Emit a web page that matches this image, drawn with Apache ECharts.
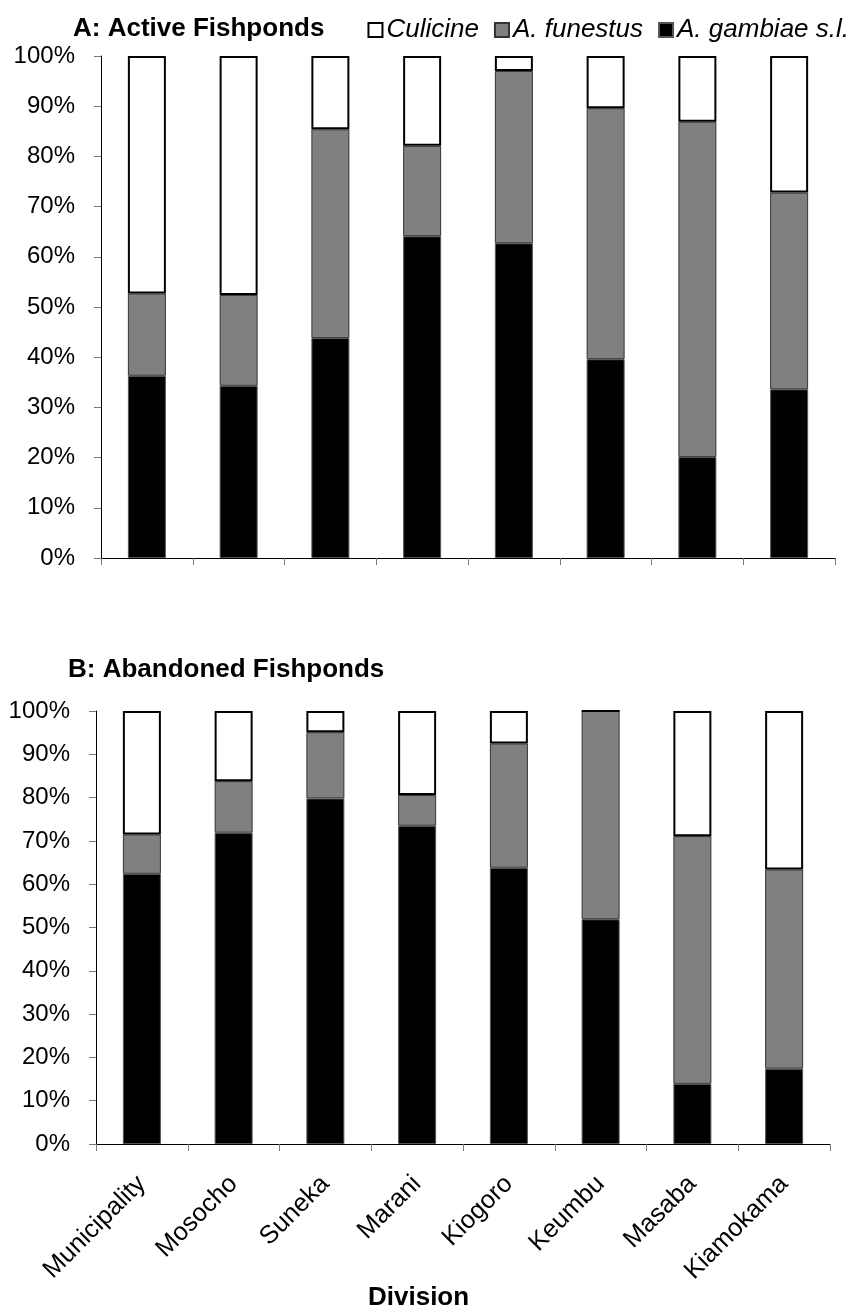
<!DOCTYPE html>
<html>
<head>
<meta charset="utf-8">
<script src="https://cdn.jsdelivr.net/npm/echarts@6/dist/echarts.min.js"></script>
<style>html,body{margin:0;padding:0;background:#fff;}#c{width:857px;height:1306px;}</style>
</head>
<body>
<div id="c"></div>
<script>
const categories = ['Municipality','Mosocho','Suneka','Marani','Kiogoro','Keumbu','Masaba','Kiamokama'];
const seriesNames = ['A. gambiae s.l.','A. funestus','Culicine'];
const activeGambiae = [36.3, 34.3, 43.8, 64.1, 62.7, 39.6, 20.1, 33.6];
const activeFunestus = [16.4, 18.1, 41.6, 18.0, 34.3, 50.0, 66.8, 39.2];
const activeCulicine = [47.3, 47.6, 14.6, 17.9, 3.0, 10.4, 13.1, 27.2];
const abandGambiae = [62.4, 71.9, 79.8, 73.5, 63.8, 51.9, 13.9, 17.4];
const abandFunestus = [9.1, 11.9, 15.3, 7.1, 28.7, 48.1, 57.2, 46.0];
const abandCulicine = [28.5, 16.2, 4.9, 19.4, 7.5, 0, 28.9, 36.6];
const titleA = 'A: Active Fishponds';
const titleB = 'B: Abandoned Fishponds';
const xAxisName = 'Division';

const FONT = 'Liberation Sans, Arial, sans-serif';
const fills = ['#000000', '#808080', '#ffffff'];
const borders = [{c:'#555', w:1}, {c:'#333', w:1}, {c:'#000', w:2}];

function yAx(gi){
  return {
    type:'value', gridIndex:gi, min:0, max:100, interval:10,
    axisLine:{show:true, lineStyle:{color:'#000', width:1}},
    axisTick:{show:true, length:7, lineStyle:{color:'#777'}},
    splitLine:{show:false},
    axisLabel:{formatter:'{value}%', fontFamily:FONT, fontSize:24, color:'#000', margin:26}
  };
}
function xAx(gi, showLabels){
  return {
    type:'category', gridIndex:gi, data:categories, boundaryGap:true,
    axisLine:{show:true, lineStyle:{color:'#000', width:1}},
    axisTick:{show:true, length:7, alignWithLabel:false, lineStyle:{color:'#777'}},
    axisLabel:{show:showLabels, rotate:45, interval:0, fontFamily:FONT, fontSize:25.5, color:'#000', margin:36}
  };
}
function mk(name, data, idx, gi, stack){
  return {
    name:name, type:'bar', stack:stack, xAxisIndex:gi, yAxisIndex:gi, data:data,
    barWidth:38, animation:false,
    itemStyle:{color:fills[idx], borderColor:borders[idx].c, borderWidth:borders[idx].w}
  };
}

const chart = echarts.init(document.getElementById('c'), null, {renderer:'canvas'});
chart.setOption({
  backgroundColor:'#fff',
  animation:false,
  title:[
    {text:titleA, left:68, top:11, textStyle:{fontFamily:FONT, fontSize:26, fontWeight:'bold', color:'#000'}},
    {text:titleB, left:63, top:652, textStyle:{fontFamily:FONT, fontSize:26, fontWeight:'bold', color:'#000'}},
    {text:xAxisName, left:363, top:1280, textStyle:{fontFamily:FONT, fontSize:26, fontWeight:'bold', color:'#000'}}
  ],
  legend:{
    data:['Culicine','A. funestus','A. gambiae s.l.'],
    right:3, top:12, itemWidth:14, itemHeight:14, itemGap:15,
    icon:'rect',
    textStyle:{fontFamily:FONT, fontSize:26, fontStyle:'italic', color:'#000', padding:[0,0,0,-1]},
    selectedMode:false
  },
  grid:[
    {left:101, right:22, top:56, bottom:748, containLabel:false},
    {left:96, right:27, top:711, bottom:162, containLabel:false}
  ],
  xAxis:[xAx(0,false), xAx(1,true)],
  yAxis:[yAx(0), yAx(1)],
  series:[
    mk(seriesNames[0], activeGambiae, 0, 0, 'a'),
    mk(seriesNames[1], activeFunestus, 1, 0, 'a'),
    mk(seriesNames[2], activeCulicine, 2, 0, 'a'),
    mk(seriesNames[0], abandGambiae, 0, 1, 'b'),
    mk(seriesNames[1], abandFunestus, 1, 1, 'b'),
    mk(seriesNames[2], abandCulicine, 2, 1, 'b')
  ]
});
</script>
</body>
</html>
